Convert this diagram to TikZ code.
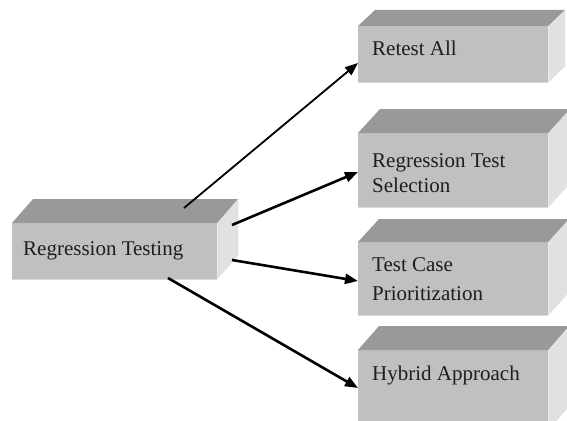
\documentclass[tikz,border=0pt]{standalone}
\usepackage{fontspec}
\setmainfont{Liberation Serif}
\usetikzlibrary{arrows.meta}
\tikzset{
  frontface/.style={fill=frontgray, draw=none, inner sep=0pt, anchor=north west},
  topface/.style={fill=topgray},
  sideface/.style={fill=sidegray},
  edgelight/.style={draw=edgegray, line width=1pt},
  lbl/.style={inner sep=0pt, anchor=base west, text=textgray, font=\fontsize{21}{24}\selectfont},
  conn/.style={draw=black, line width=2.6pt, -{Triangle[length=13pt,width=10pt]}},
  connthin/.style={draw=black, line width=1.8pt, -{Triangle[length=13pt,width=10pt]}},
}
\definecolor{frontgray}{RGB}{192,192,192}
\definecolor{topgray}{RGB}{153,153,153}
\definecolor{sidegray}{RGB}{225,225,225}
\definecolor{edgegray}{RGB}{218,218,218}
\definecolor{textgray}{RGB}{30,30,30}
% name, x, y, width, height, dx, dy
\newcommand\boxcube[7]{%
  \node[frontface, minimum width=#4pt, minimum height=#5pt] (#1) at (#2,#3) {};
  \fill[topface] (#1.north west) -- ++(#6,#7) -- ++(#4,0) -- (#1.north east) -- cycle;
  \fill[sideface] (#1.north east) -- ++(#6,#7) -- ++(0,#5) -- (#1.south east) -- cycle;
  \draw[edgelight] (#1.south west) -- (#1.south east);
}
\begin{document}
\begin{tikzpicture}[x=1pt,y=-1pt]
  \useasboundingbox (0,0) rectangle (567,420);
  \clip (0,0) rectangle (567,420);
  \boxcube{main}{12}{223}{205}{56}{21}{-24}
  \boxcube{rt}{358}{26}{190}{56}{17}{-16}
  \boxcube{rts}{358}{133}{190}{74}{22}{-24}
  \boxcube{tcp}{358}{242}{190}{73}{21}{-23}
  \boxcube{hy}{358}{350}{190}{80}{21}{-24}
  \node[lbl] (maint) at (23,255) {Regression Testing};
  \node[lbl] (rtt) at (372,56) {Retest All};
  \node[lbl] (rtsa) at (372,167) {Regression Test};
  \node[lbl] (rtsb) at (372,192) {Selection};
  \node[lbl] (tcpa) at (372,271) {Test Case};
  \node[lbl] (tcpb) at (372,300) {Prioritization};
  \node[lbl] (hyt) at (372,380) {Hybrid Approach};
  \draw[connthin] ([shift={(172,-15)}]main.north west) -- ([shift={(0,37)}]rt.north west);
  \draw[conn] ([shift={(220,2)}]main.north west) -- ([shift={(0,39)}]rts.north west);
  \draw[conn] ([shift={(220,37)}]main.north west) -- ([shift={(0,39)}]tcp.north west);
  \draw[conn] ([shift={(156,55)}]main.north west) -- ([shift={(0,38)}]hy.north west);
\end{tikzpicture}
\end{document}
